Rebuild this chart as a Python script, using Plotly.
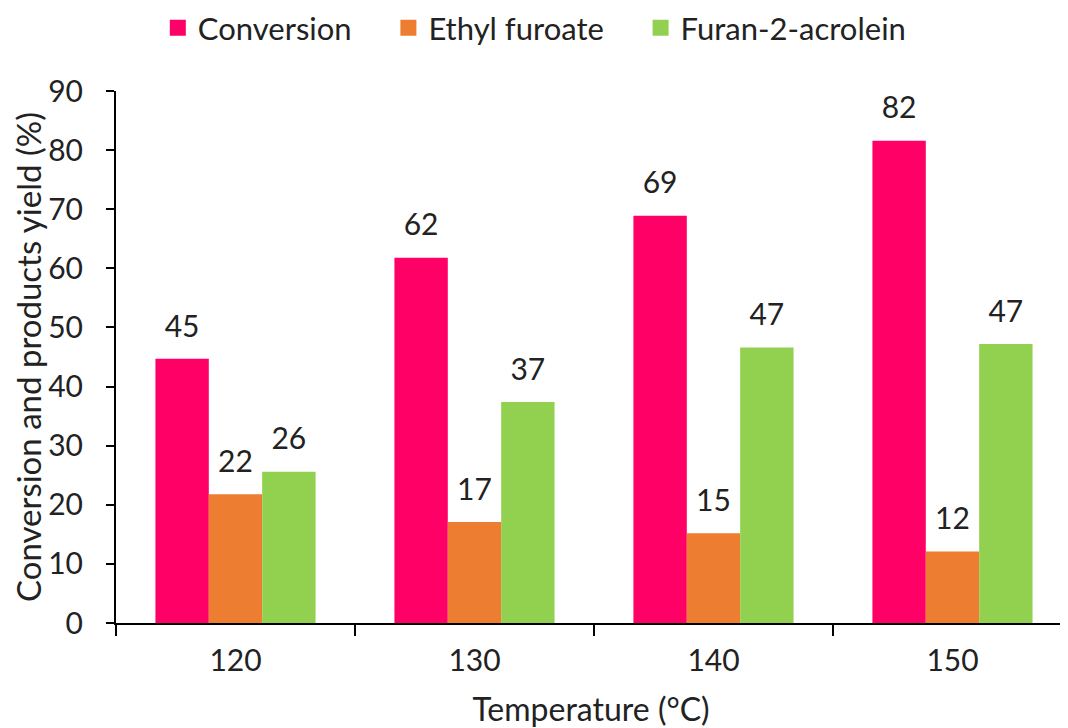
import plotly.graph_objects as go

temperatures = ["120", "130", "140", "150"]
conversion = [44.7, 61.8, 68.9, 81.6]
ethyl_furoate = [21.8, 17.1, 15.2, 12.1]
furan_acrolein = [25.6, 37.4, 46.6, 47.2]

series = [
    ("Conversion", conversion, "#FF0066"),
    ("Ethyl furoate", ethyl_furoate, "#ED7D31"),
    ("Furan-2-acrolein", furan_acrolein, "#92D050"),
]

FONT = "Lato"
TXT = "#222222"
NB = "\u00a0"

fig = go.Figure()
for k, (name, vals, color) in enumerate(series):
    fig.add_trace(go.Bar(
        x=temperatures, y=vals, name=name, showlegend=False,
        offsetgroup=f"g{k}",
        marker=dict(color=color, line=dict(width=0)),
    ))
# value labels, grouped like the bars
for k, (name, vals, color) in enumerate(series):
    fig.add_trace(go.Scatter(
        x=temperatures, y=vals, mode="markers+text", showlegend=False,
        offsetgroup=f"g{k}",
        text=[f"{v:.0f}" for v in vals], textposition="top center",
        textfont=dict(family=FONT, size=30, color=TXT),
        marker=dict(size=22, opacity=0, color=color),
        cliponaxis=False, hoverinfo="skip",
    ))
# legend entries (square swatches)
legend_names = [series[0][0] + NB * 4, series[1][0] + NB * 4, series[2][0]]
for k, ((name, vals, color), lname) in enumerate(zip(series, legend_names)):
    fig.add_trace(go.Scatter(
        x=[None], y=[None], mode="markers", name=lname,
        offsetgroup=f"g{k}",
        marker=dict(symbol="square", size=20, color=color),
    ))

fig.update_layout(
    width=1060, height=720,
    margin=dict(l=108, r=2, t=83, b=105),
    paper_bgcolor="white", plot_bgcolor="white",
    barmode="group", bargap=0.33, bargroupgap=0,
    scattermode="group", scattergap=0.33,
    font=dict(family=FONT, size=30, color=TXT),
    showlegend=True,
    legend=dict(orientation="h", x=0.497, xanchor="center", xref="container",
                y=0.972, yanchor="middle", yref="container", itemsizing="trace",
                font=dict(family=FONT, size=31, color=TXT),
                itemwidth=30, tracegroupgap=0),
    xaxis=dict(
        type="category", range=[-0.5, 3.475], automargin=False,
        showline=True, linecolor="black", linewidth=2,
        ticks="outside", tickson="boundaries", ticklen=11, tickwidth=2, tickcolor="black",
        ticklabelstandoff=10,
        tickfont=dict(family=FONT, size=30, color=TXT),
        title=dict(text="Temperature (°C)", font=dict(family=FONT, size=32, color=TXT), standoff=29),
        showgrid=False, zeroline=False,
    ),
    yaxis=dict(
        range=[0, 90], dtick=10, tick0=0, automargin=False,
        showline=True, linecolor="black", linewidth=2,
        ticks="outside", ticklen=8, tickwidth=2, tickcolor="black",
        ticklabelstandoff=17,
        tickfont=dict(family=FONT, size=30, color=TXT),
        title=dict(text="Conversion and products yield (%)", font=dict(family=FONT, size=33, color=TXT), standoff=8),
        showgrid=False, zeroline=False,
    ),
)

fig.write_html("out.html")
